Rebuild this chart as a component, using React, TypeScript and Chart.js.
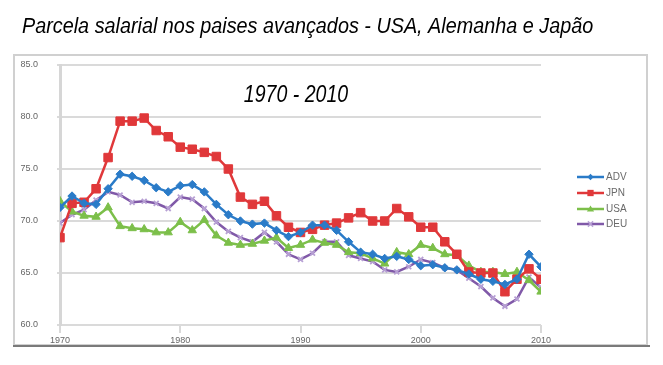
import React, { useEffect, useRef } from "react";
import { Chart, registerables } from "chart.js";

Chart.register(...registerables);

const years = [
  1970, 1971, 1972, 1973, 1974, 1975, 1976, 1977, 1978, 1979,
  1980, 1981, 1982, 1983, 1984, 1985, 1986, 1987, 1988, 1989,
  1990, 1991, 1992, 1993, 1994, 1995, 1996, 1997, 1998, 1999,
  2000, 2001, 2002, 2003, 2004, 2005, 2006, 2007, 2008, 2009, 2010,
];

const adv = [
  71.3, 72.4, 71.7, 71.6, 73.1, 74.5, 74.3, 73.9, 73.2, 72.8,
  73.4, 73.5, 72.8, 71.6, 70.6, 70.0, 69.7, 69.8, 69.1, 68.5,
  68.9, 69.6, 69.6, 69.1, 68.0, 67.0, 66.8, 66.4, 66.6, 66.3,
  65.7, 65.8, 65.5, 65.3, 64.9, 64.4, 64.2, 63.9, 64.4, 66.8, 65.6,
];

const jpn = [
  68.4, 71.7, 71.8, 73.1, 76.1, 79.6, 79.6, 79.9, 78.7, 78.1,
  77.1, 76.9, 76.6, 76.2, 75.0, 72.3, 71.6, 71.9, 70.5, 69.4,
  68.9, 69.2, 69.6, 69.8, 70.3, 70.8, 70.0, 70.0, 71.2, 70.4,
  69.4, 69.4, 68.0, 66.8, 65.1, 65.0, 65.0, 63.2, 64.4, 65.4, 64.4,
];

const usa = [
  71.9, 70.9, 70.5, 70.4, 71.3, 69.5, 69.3, 69.2, 68.9, 68.9,
  69.9, 69.1, 70.1, 68.6, 67.9, 67.7, 67.8, 68.1, 68.4, 67.4,
  67.7, 68.2, 67.9, 67.7, 67.0, 66.9, 66.4, 65.9, 67.0, 66.8,
  67.7, 67.4, 66.8, 66.7, 65.7, 65.1, 65.1, 64.9, 65.1, 64.3, 63.2,
];

const deu = [
  69.8, 70.6, 71.1, 72.0, 72.8, 72.5, 71.8, 71.9, 71.7, 71.2,
  72.3, 72.1, 71.2, 69.9, 69.0, 68.4, 68.0, 68.9, 68.0, 66.8,
  66.3, 66.9, 68.0, 68.0, 66.7, 66.4, 66.1, 65.3, 65.1, 65.6,
  66.3, 66.0, 65.5, 65.3, 64.5, 63.7, 62.6, 61.8, 62.5, 64.6, 63.6,
];

const seriesNames = ["ADV", "JPN", "USA", "DEU"];
const yTicks = [60, 65, 70, 75, 80, 85];
const xTicks = [1970, 1980, 1990, 2000, 2010];
const mainTitle = "Parcela salarial nos paises avançados - USA, Alemanha e Japão";
const innerTitle = "1970 - 2010";

const colors = ["#2a7bc8", "#e0383a", "#7cbf4a", "#8059a8"];
const pointColors = ["#2a7bc8", "#e0383a", "#7cbf4a", "#b7a0d4"];
const pointStyles = ["rectRot", "rect", "triangle", "crossRot"];
const pointRadii = [4.2, 6, 4.8, 3.5];

function drawMarker(ctx: CanvasRenderingContext2D, style: string, x: number, y: number, r: number, color: string) {
  ctx.save();
  ctx.fillStyle = color;
  ctx.strokeStyle = color;
  ctx.lineWidth = 1.5;
  ctx.beginPath();
  if (style === "rectRot") {
    ctx.moveTo(x, y - r);
    ctx.lineTo(x + r, y);
    ctx.lineTo(x, y + r);
    ctx.lineTo(x - r, y);
    ctx.closePath();
    ctx.fill();
  } else if (style === "rect") {
    ctx.rect(x - r * 0.7, y - r * 0.7, r * 1.4, r * 1.4);
    ctx.fill();
  } else if (style === "triangle") {
    ctx.moveTo(x, y - r);
    ctx.lineTo(x + r, y + r * 0.7);
    ctx.lineTo(x - r, y + r * 0.7);
    ctx.closePath();
    ctx.fill();
  } else {
    ctx.moveTo(x - r, y - r);
    ctx.lineTo(x + r, y + r);
    ctx.moveTo(x + r, y - r);
    ctx.lineTo(x - r, y + r);
    ctx.stroke();
  }
  ctx.restore();
}

const decorPlugin = {
  id: "decor",
  beforeDraw(chart: any) {
    const ctx: CanvasRenderingContext2D = chart.ctx;
    ctx.save();
    ctx.fillStyle = "#ffffff";
    ctx.fillRect(0, 0, chart.width, chart.height);
    ctx.strokeStyle = "#d0d0d0";
    ctx.lineWidth = 2;
    ctx.strokeRect(14, 55, 633, 290);
    ctx.strokeStyle = "#7a7a7a";
    ctx.lineWidth = 2;
    ctx.beginPath();
    ctx.moveTo(13, 346);
    ctx.lineTo(650, 346);
    ctx.stroke();
    ctx.restore();
  },
  afterDraw(chart: any) {
    const ctx: CanvasRenderingContext2D = chart.ctx;
    ctx.save();
    ctx.fillStyle = "#000";
    ctx.textBaseline = "alphabetic";
    ctx.textAlign = "left";
    ctx.save();
    ctx.translate(22, 33);
    ctx.scale(0.9, 1);
    ctx.font = 'italic 22px "Liberation Sans", Arial, sans-serif';
    ctx.fillText(mainTitle, 0, 0);
    ctx.restore();
    ctx.save();
    ctx.translate(296, 102);
    ctx.scale(0.85, 1);
    ctx.textAlign = "center";
    ctx.font = 'italic 23px "Liberation Sans", Arial, sans-serif';
    ctx.fillText(innerTitle, 0, 0);
    ctx.restore();
    const ys = [177, 193, 209, 224];
    chart.data.datasets.forEach((ds: any, i: number) => {
      const y = ys[i];
      ctx.strokeStyle = colors[i];
      ctx.lineWidth = 2.5;
      ctx.beginPath();
      ctx.moveTo(577, y);
      ctx.lineTo(604, y);
      ctx.stroke();
      drawMarker(ctx, pointStyles[i], 590.5, y, pointRadii[i] * 0.75, pointColors[i]);
      ctx.fillStyle = "#6a6a6a";
      ctx.font = '10px "Liberation Sans", Arial, sans-serif';
      ctx.textAlign = "left";
      ctx.textBaseline = "middle";
      ctx.fillText(ds.label, 606, y + 0.5);
    });
    ctx.restore();
  },
};

export default function App() {
  const ref = useRef<HTMLCanvasElement | null>(null);

  useEffect(() => {
    if (!ref.current) return;
    const seriesValues = [adv, jpn, usa, deu];
    const chart = new Chart(ref.current, {
      type: "line",
      data: {
        datasets: seriesValues.map((vals, i) => ({
          label: seriesNames[i],
          data: years.map((yr, k) => ({ x: yr, y: vals[k] })),
          borderColor: colors[i],
          backgroundColor: pointColors[i],
          pointBackgroundColor: pointColors[i],
          pointBorderColor: pointColors[i],
          pointStyle: pointStyles[i] as any,
          pointRadius: pointRadii[i],
          pointBorderWidth: i === 3 ? 1.8 : 1,
          borderWidth: 2.5,
          tension: 0,
          fill: false,
        })),
      },
      options: {
        animation: false,
        responsive: false,
        maintainAspectRatio: false,
        layout: { padding: { left: 0, right: 122, top: 65, bottom: 0 } },
        plugins: {
          legend: { display: false },
          title: { display: false },
          tooltip: { enabled: false },
        },
        scales: {
          x: {
            type: "linear",
            min: 1970,
            max: 2010,
            afterFit: (s: any) => {
              s.height = 40;
            },
            afterBuildTicks: (s: any) => {
              s.ticks = xTicks.map((v) => ({ value: v }));
            },
            ticks: {
              callback: (v: any) => String(v),
              color: "#666",
              font: { family: '"Liberation Sans", Arial, sans-serif', size: 9 },
              padding: 2,
              maxRotation: 0,
            },
            grid: {
              drawOnChartArea: false,
              drawTicks: true,
              tickLength: 8,
              color: "#d9d9d9",
              lineWidth: 2,
            },
            border: { display: false },
          },
          y: {
            min: 60,
            max: 85,
            afterFit: (s: any) => {
              s.width = 60;
            },
            afterBuildTicks: (s: any) => {
              s.ticks = yTicks.map((v) => ({ value: v }));
            },
            ticks: {
              callback: (v: any) => Number(v).toFixed(1),
              color: "#666",
              font: { family: '"Liberation Sans", Arial, sans-serif', size: 9 },
              padding: 19,
            },
            grid: {
              color: "#dadada",
              lineWidth: 2,
              tickLength: 3,
            },
            border: { display: true, color: "#d6d6d6", width: 3 },
          },
        },
      },
      plugins: [decorPlugin],
    });
    return () => chart.destroy();
  }, []);

  return (
    <div style={{ position: "absolute", left: 0, top: 0, width: 663, height: 365, background: "#fff" }}>
      <canvas ref={ref} width={663} height={365} style={{ width: 663, height: 365, display: "block" }} />
    </div>
  );
}
